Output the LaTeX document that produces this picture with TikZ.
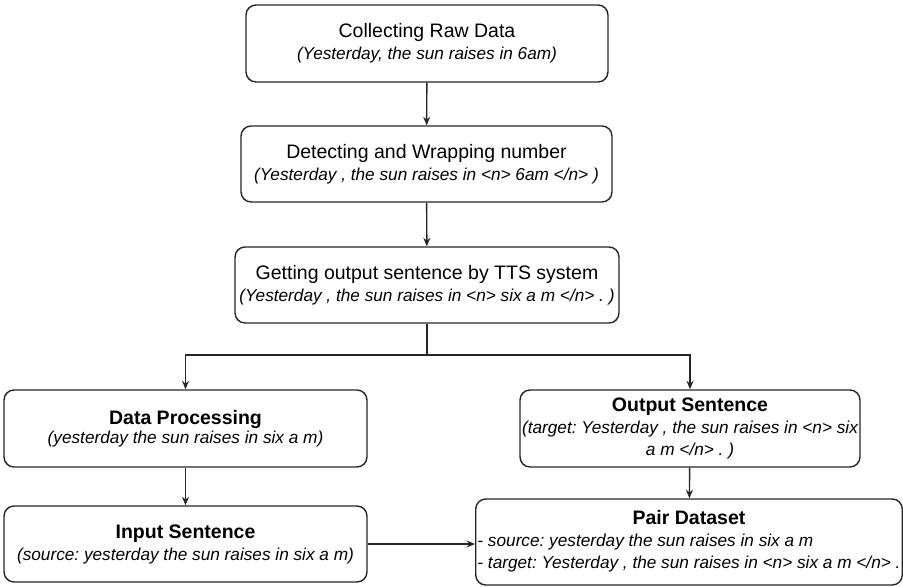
\documentclass[tikz,border=0pt]{standalone}
\usepackage{fontspec}
\setmainfont{Liberation Sans}
\frenchspacing
\usetikzlibrary{arrows.meta}
\tikzstyle{stage}=[draw=black!85,line width=0.8pt,rounded corners=0.2cm,align=center,inner sep=1pt,font=\fontsize{9.8}{12.5}\selectfont\itshape]
\tikzstyle{edge}=[draw,line width=0.8pt,black!85,-{Stealth[length=0.17cm,width=0.14cm]}]
\tikzstyle{plainedge}=[draw,line width=0.8pt,black!85]
\newcommand{\stagehead}[1]{{\upshape\fontsize{11.1}{12.5}\selectfont #1}}
\newcommand{\stageheadbf}[1]{{\upshape\bfseries\fontsize{11.1}{12.5}\selectfont #1}}

\begin{document}
\begin{tikzpicture}[x=0.02cm,y=-0.02cm]
    \useasboundingbox (0,0) rectangle (903,587);

    % pipeline steps
    \node[stage,minimum width=7.24cm,minimum height=1.54cm] (collect) at (427,43.5)
        {\stagehead{Collecting Raw Data}\\(Yesterday, the sun raises in 6am)};
    \node[stage,minimum width=7.42cm,minimum height=1.52cm] (wrap) at (426.5,164)
        {\stagehead{Detecting and Wrapping number}\\(Yesterday , the sun raises in <n> 6am </n> )};
    \node[stage,minimum width=7.68cm,minimum height=1.52cm] (tts) at (427,285)
        {\stagehead{Getting output sentence by TTS system}\\(Yesterday , the sun raises in <n> six a m </n> . )};

    \node[stage,minimum width=7.26cm,minimum height=1.54cm] (proc) at (185.5,428.5)
        {\stageheadbf{Data Processing}\\[-1.7pt](yesterday the sun raises in six a m)};
    \node[stage,minimum width=6.8cm,minimum height=1.54cm] (outsent) at (690,428.5)
        {\stageheadbf{Output Sentence}\\(target: Yesterday , the sun raises in <n> six\\a m </n> . )};
    \node[stage,minimum width=7.26cm,minimum height=1.52cm] (insent) at (185.5,544)
        {\stageheadbf{Input Sentence}\\(source: yesterday the sun raises in six a m)};
    \node[stage,minimum width=8.48cm,minimum height=1.72cm] (pair) at (689,542)
        {\begin{tabular}{@{}l@{}}\multicolumn{1}{@{}c@{}}{\stageheadbf{Pair Dataset}}\\
        - source: yesterday the sun raises in six a m\\
        - target: Yesterday , the sun raises in <n> six a m </n> .\end{tabular}};

    \coordinate (split) at (427,355);

    % Connect the steps
    \foreach \source/ \dest in {collect/wrap, wrap/tts, proc/insent, outsent/pair}
        \path[edge] (\source) -- (\dest);

    \path[plainedge] (tts.south) -- (split);
    \path[edge] (split) -| (proc.north);
    \path[edge] (split) -| (outsent.north);
    \path[edge] (insent.east) -- (insent.east -| pair.west);

\end{tikzpicture}
\end{document}
